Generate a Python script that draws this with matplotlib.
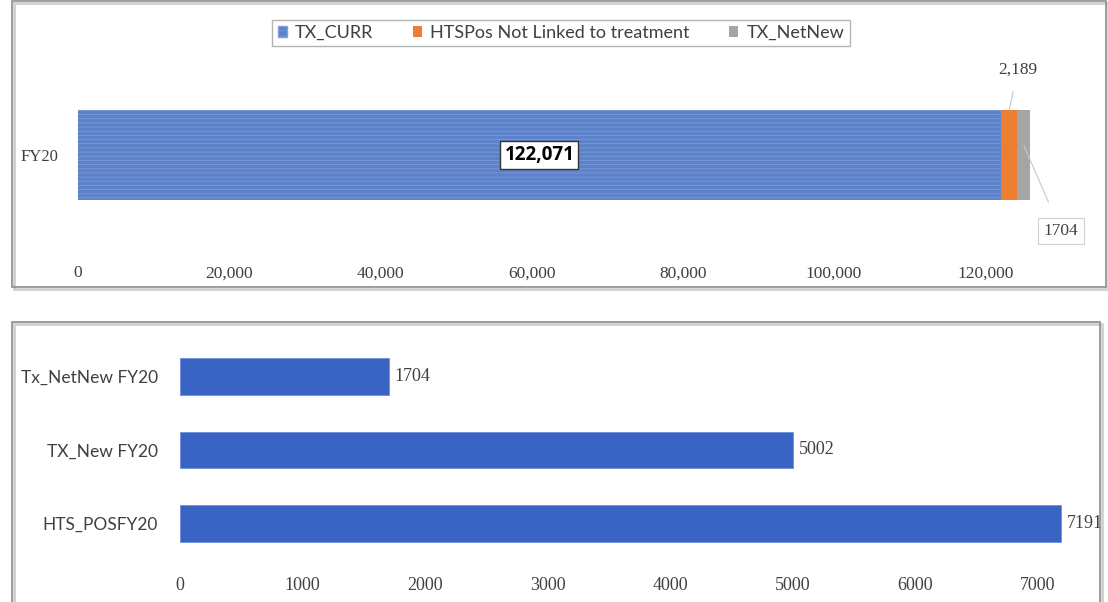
import matplotlib
matplotlib.use("Agg")
import matplotlib.pyplot as plt
from matplotlib.patches import Rectangle, Patch

# Top chart: stacked FY20 treatment cascade
period = ["FY20"]
tx_curr = [122071]
hts_not_linked = [2189]
tx_netnew = [1704]
top_ticks = [0, 20000, 40000, 60000, 80000, 100000, 120000]
top_tick_labels = ["0", "20,000", "40,000", "60,000", "80,000", "100,000", "120,000"]

# Bottom chart: FY20 indicators
indicators = ["HTS_POSFY20", "TX_New FY20", "Tx_NetNew FY20"]
indicator_values = [7191, 5002, 1704]
bottom_ticks = [0, 1000, 2000, 3000, 4000, 5000, 6000, 7000]

W, H = 1108, 602
fig = plt.figure(figsize=(W / 100, H / 100), dpi=100)
fig.patch.set_facecolor("white")

SANS = ["Lato", "DejaVu Sans"]
SERIF = ["Liberation Serif", "DejaVu Serif"]
GREY_TXT = "#404040"


def fx(px):
    return px / W


def fy(py):
    return 1 - py / H


# panel frames
for (x0, y0, x1, y1) in [(12, 1, 1106, 287), (12, 322, 1100, 610)]:
    fig.patches.append(Rectangle((fx(x0 + 2), fy(y1 + 2)), fx(x1 - x0), fy(y0) - fy(y1),
                                 transform=fig.transFigure, facecolor="none",
                                 edgecolor="#d0d0d0", linewidth=2, zorder=0))
    fig.patches.append(Rectangle((fx(x0), fy(y1)), fx(x1 - x0), fy(y0) - fy(y1),
                                 transform=fig.transFigure, facecolor="none",
                                 edgecolor="#8c8c8c", linewidth=1.2, zorder=1))

# ---------------- top chart ----------------
ax1 = fig.add_axes([fx(78), fy(250), fx(1100 - 78), fy(60) - fy(250)])
px_per_unit = 7.56 / 1000
ax1.set_xlim(0, (1100 - 78) / px_per_unit)
ax1.set_ylim(-1, 1)

c_curr = "#5d82ca"
c_orange = "#ed7d31"
c_grey = "#a5a5a5"
bar_h = 0.95

matplotlib.rcParams["hatch.linewidth"] = 0.5
ax1.barh(period, tx_curr, height=bar_h, color=c_curr, hatch="----",
         edgecolor="#819fd8", linewidth=0, label="TX_CURR")
ax1.barh(period, hts_not_linked, left=tx_curr, height=bar_h, color=c_orange,
         linewidth=0, label="HTSPos Not Linked to treatment")
left3 = [a + b for a, b in zip(tx_curr, hts_not_linked)]
ax1.barh(period, tx_netnew, left=left3, height=bar_h, color=c_grey,
         linewidth=0, label="TX_NetNew")

for s in ax1.spines.values():
    s.set_visible(False)
ax1.set_xticks(top_ticks)
ax1.set_xticklabels(top_tick_labels, family=SERIF, fontsize=12.5, color=GREY_TXT)
ax1.tick_params(axis="x", length=0, pad=11)
ax1.tick_params(axis="y", length=0, pad=14)
for lab in ax1.get_yticklabels():
    lab.set_family(SERIF)
    lab.set_fontsize(12)
    lab.set_color(GREY_TXT)

# value labels
ax1.text(tx_curr[0] / 2, 0, f"{tx_curr[0]:,}", ha="center", va="center",
         fontsize=13.5, fontweight="bold", family=["Open Sans", "DejaVu Sans"], color="black",
         bbox=dict(boxstyle="square,pad=0.22", facecolor="white", edgecolor="#333333", lw=1))

orange_mid = tx_curr[0] + hts_not_linked[0] / 2
ax1.annotate(f"{hts_not_linked[0]:,}", xy=(orange_mid, bar_h / 2), xycoords="data",
             xytext=(fx(1018), fy(70)), textcoords="figure fraction",
             ha="center", va="center", fontsize=12.5, family=SERIF, color=GREY_TXT,
             arrowprops=dict(arrowstyle="-", color="#c8c8c8", lw=0.8,
                             shrinkA=8, shrinkB=0))
grey_mid = left3[0] + tx_netnew[0] / 2
ax1.annotate(f"{tx_netnew[0]}", xy=(grey_mid, 0.1), xycoords="data",
             xytext=(fx(1061), fy(231)), textcoords="figure fraction",
             ha="center", va="center", fontsize=12.5, family=SERIF, color=GREY_TXT,
             bbox=dict(boxstyle="square,pad=0.3", facecolor="white", edgecolor="#d0d0d0", lw=0.8),
             arrowprops=dict(arrowstyle="-", color="#c8c8c8", lw=0.8,
                             shrinkA=12, shrinkB=0))

handles = [Patch(facecolor=c_curr, edgecolor="#819fd8", hatch="---", label="TX_CURR"),
           Patch(facecolor=c_orange, label="HTSPos Not Linked to treatment"),
           Patch(facecolor=c_grey, label="TX_NetNew")]
leg = fig.legend(handles=handles, loc="center", bbox_to_anchor=(fx(561), fy(33)),
                 ncol=3, frameon=True, fancybox=False, edgecolor="#a0a0a0",
                 prop=dict(family=SANS, size=13), handlelength=0.5, handleheight=0.5,
                 handletextpad=0.45, columnspacing=2.2, borderpad=0.3, borderaxespad=0)
for t in leg.get_texts():
    t.set_color(GREY_TXT)
leg.get_frame().set_linewidth(1.0)

# ---------------- bottom chart ----------------
ax2 = fig.add_axes([fx(180), fy(560), fx(1100 - 180), fy(340) - fy(560)])
px_per_unit2 = 0.1225
ax2.set_xlim(0, (1100 - 180) / px_per_unit2)
ax2.set_ylim(-0.5, 2.5)

bars = ax2.barh(indicators, indicator_values, height=0.5, color="#3a64c4",
                edgecolor="#6d90dc", linewidth=0.6)
for rect, v in zip(bars, indicator_values):
    ax2.text(rect.get_width() + 50, rect.get_y() + rect.get_height() / 2, f"{v}",
             ha="left", va="center", fontsize=13, family=SERIF, color=GREY_TXT)

for s in ax2.spines.values():
    s.set_visible(False)
ax2.set_xticks(bottom_ticks)
ax2.set_xticklabels([str(t) for t in bottom_ticks], family=SERIF, fontsize=13, color=GREY_TXT)
ax2.tick_params(axis="x", length=0, pad=12)
ax2.tick_params(axis="y", length=0, pad=16)
for lab in ax2.get_yticklabels():
    lab.set_family(SANS)
    lab.set_fontsize(12.5)
    lab.set_color(GREY_TXT)

fig.savefig("out.png", dpi=100, facecolor="white")
